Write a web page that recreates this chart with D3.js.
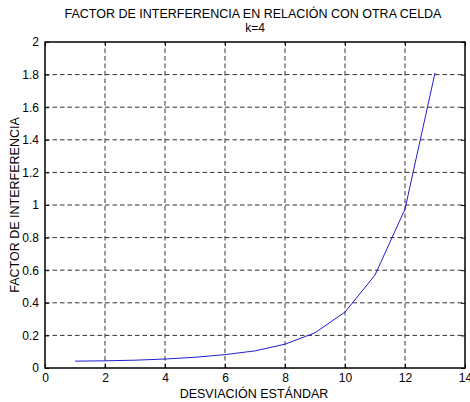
<!DOCTYPE html>
<html>
<head>
<meta charset="utf-8">
<script src="https://cdn.jsdelivr.net/npm/d3@7"></script>
<style>
  body { margin: 0; background: #fff; }
  svg { display: block; font-family: "Liberation Sans", Arial, sans-serif; }
</style>
</head>
<body>
<script>
// desviacion estandar vs factor de interferencia (k=4)
const sigma = [1, 2, 3, 4, 5, 6, 7, 8, 9, 10, 11, 12, 13];
const factor = [0.042, 0.044, 0.048, 0.055, 0.066, 0.082, 0.105, 0.146, 0.216, 0.343, 0.57, 0.975, 1.81];
const xTicks = [0, 2, 4, 6, 8, 10, 12, 14];
const yTicks = [0, 0.2, 0.4, 0.6, 0.8, 1, 1.2, 1.4, 1.6, 1.8, 2];

const width = 470, height = 402;
const margin = {top: 42, right: 5, bottom: 34, left: 45};

const svg = d3.select("body").append("svg")
    .attr("width", width)
    .attr("height", height);

const x = d3.scaleLinear().domain([0, 14]).range([margin.left, width - margin.right]);
const y = d3.scaleLinear().domain([0, 2]).range([height - margin.bottom, margin.top]);

// grid lines
svg.append("g").selectAll("line")
    .data(xTicks.slice(1, -1))
    .enter().append("line")
    .attr("x1", d => x(d)).attr("x2", d => x(d))
    .attr("y1", y(0)).attr("y2", y(2))
    .attr("stroke", "#333")
    .attr("stroke-width", 1)
    .attr("stroke-dasharray", "4.5,3");

svg.append("g").selectAll("line")
    .data(yTicks.slice(1, -1))
    .enter().append("line")
    .attr("x1", x(0)).attr("x2", x(14))
    .attr("y1", d => y(d)).attr("y2", d => y(d))
    .attr("stroke", "#333")
    .attr("stroke-width", 1)
    .attr("stroke-dasharray", "4.5,3");

// axes with inward ticks
const xAxis = svg.append("g")
    .attr("transform", `translate(0,${y(0)})`)
    .call(d3.axisBottom(x).tickValues(xTicks).tickSizeInner(-4).tickSizeOuter(0).tickPadding(5));
const xTop = svg.append("g")
    .attr("transform", `translate(0,${y(2)})`)
    .call(d3.axisTop(x).tickValues(xTicks).tickSizeInner(-4).tickSizeOuter(0).tickFormat(""));
const yAxis = svg.append("g")
    .attr("transform", `translate(${x(0)},0)`)
    .call(d3.axisLeft(y).tickValues(yTicks).tickSizeInner(-4).tickSizeOuter(0).tickPadding(6).tickFormat(d3.format("")));
const yRight = svg.append("g")
    .attr("transform", `translate(${x(14)},0)`)
    .call(d3.axisRight(y).tickValues(yTicks).tickSizeInner(-4).tickSizeOuter(0).tickFormat(""));

[xAxis, xTop, yAxis, yRight].forEach(g => {
    g.select(".domain").remove();
    g.selectAll("line").attr("stroke", "#000");
    g.selectAll("text")
        .attr("fill", "#000")
        .style("font-size", "12px")
        .style("font-family", "Liberation Sans, Arial, sans-serif");
});

// box
svg.append("rect")
    .attr("x", x(0)).attr("y", y(2))
    .attr("width", x(14) - x(0))
    .attr("height", y(0) - y(2))
    .attr("fill", "none")
    .attr("stroke", "#000")
    .attr("stroke-width", 1.5);

// curve
const line = d3.line()
    .x((d, i) => x(sigma[i]))
    .y(d => y(d));

svg.append("path")
    .datum(factor)
    .attr("d", line)
    .attr("fill", "none")
    .attr("stroke", "#1f1fd0")
    .attr("stroke-width", 1);

// titles
svg.append("text")
    .attr("x", 253).attr("y", 18)
    .attr("text-anchor", "middle")
    .style("font-size", "12.5px")
    .text("FACTOR DE INTERFERENCIA EN RELACIÓN CON OTRA CELDA");
svg.append("text")
    .attr("x", 255).attr("y", 32)
    .attr("text-anchor", "middle")
    .style("font-size", "12px")
    .text("k=4");

svg.append("text")
    .attr("x", 254).attr("y", 398)
    .attr("text-anchor", "middle")
    .style("font-size", "12.5px")
    .text("DESVIACIÓN ESTÁNDAR");

svg.append("text")
    .attr("transform", `translate(19,${(y(0) + y(2)) / 2}) rotate(-90)`)
    .attr("text-anchor", "middle")
    .style("font-size", "12.5px")
    .text("FACTOR DE INTERFERENCIA");
</script>
</body>
</html>
